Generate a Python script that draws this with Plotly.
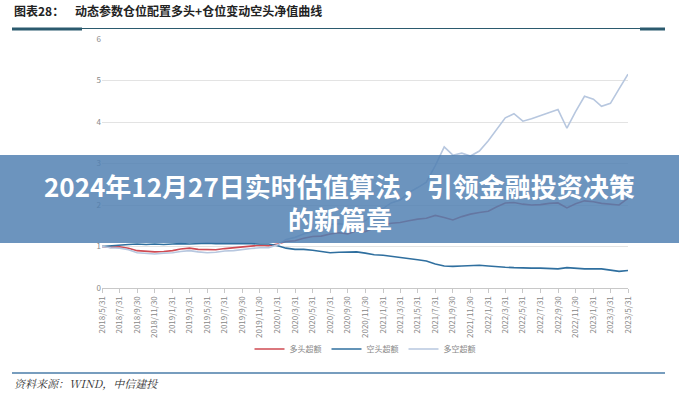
import pandas as pd
import plotly.graph_objects as go

# ---------------- data (month-end values) ----------------
dates = pd.date_range("2018-05-31", periods=61, freq="ME")

long_excess = [1.00, 0.98, 0.99, 0.96, 0.90, 0.88, 0.87, 0.88, 0.90, 0.94,
               0.96, 0.93, 0.92, 0.92, 0.95, 0.97, 0.99, 1.02, 1.03, 1.02,
               1.06, 1.12, 1.14, 1.20, 1.24, 1.25, 1.30, 1.33, 1.30, 1.38,
               1.36, 1.45, 1.52, 1.56, 1.58, 1.62, 1.66, 1.68, 1.75, 1.70,
               1.64, 1.72, 1.78, 1.82, 1.85, 1.95, 2.05, 2.06, 2.02, 2.00,
               2.01, 2.04, 2.05, 1.93, 2.03, 2.10, 2.08, 2.04, 2.02, 2.00,
               2.16]

short_excess = [1.00, 1.02, 1.03, 1.05, 1.06, 1.05, 1.06, 1.05, 1.06, 1.07,
                1.06, 1.07, 1.08, 1.07, 1.07, 1.08, 1.07, 1.07, 1.06, 1.06,
                1.02, 0.96, 0.93, 0.93, 0.91, 0.88, 0.85, 0.86, 0.86, 0.87,
                0.84, 0.80, 0.79, 0.76, 0.74, 0.70, 0.68, 0.65, 0.58, 0.53,
                0.52, 0.53, 0.54, 0.55, 0.53, 0.51, 0.50, 0.49, 0.48, 0.48,
                0.48, 0.47, 0.46, 0.49, 0.47, 0.46, 0.46, 0.46, 0.43, 0.40,
                0.42]

ls_excess = [1.00, 0.97, 0.96, 0.92, 0.85, 0.84, 0.82, 0.84, 0.85, 0.88,
             0.90, 0.87, 0.85, 0.86, 0.89, 0.90, 0.93, 0.95, 0.97, 0.97,
             1.04, 1.17, 1.22, 1.30, 1.36, 1.42, 1.53, 1.55, 1.52, 1.60,
             1.62, 1.82, 1.92, 2.05, 2.12, 2.30, 2.42, 2.55, 2.95, 3.40,
             3.20, 3.25, 3.18, 3.30, 3.55, 3.80, 4.10, 4.20, 4.02, 4.08,
             4.15, 4.22, 4.30, 3.85, 4.25, 4.62, 4.55, 4.38, 4.45, 4.80,
             5.15]

series_names = ["多头超额", "空头超额", "多空超额"]
tick_labels = [f"{d.year}/{d.month}/{d.day}" for d in dates[::2]]
tick_vals = list(dates[::2])
y_ticks = [0, 1, 2, 3, 4, 5, 6]

title_text = "图表28：    动态参数仓位配置多头+仓位变动空头净值曲线"
source_text = "资料来源：WIND，中信建投"
banner_line1 = "2024年12月27日实时估值算法，引领金融投资决策"
banner_line2 = "的新篇章"

# ---------------- layout helpers (pixel -> paper) ----------------
W, H = 679, 400
L, R, T, B = 102, 51, 39, 112
PW, PH = W - L - R, H - T - B


def px(x):
    return (x - L) / PW


def py(y):
    return (H - B - y) / PH


fig = go.Figure()
fig.add_trace(go.Scatter(x=dates, y=long_excess, name=series_names[0], mode="lines",
                         line=dict(color="#cf4a52", width=1.6)))
fig.add_trace(go.Scatter(x=dates, y=short_excess, name=series_names[1], mode="lines",
                         line=dict(color="#2f6f9f", width=1.6)))
fig.add_trace(go.Scatter(x=dates, y=ls_excess, name=series_names[2], mode="lines",
                         line=dict(color="#b7c7df", width=1.6)))

fig.update_layout(
    width=W, height=H,
    margin=dict(l=L, r=R, t=T, b=B),
    paper_bgcolor="white", plot_bgcolor="white",
    font=dict(family="Noto Sans CJK SC, sans-serif", color="#888888", size=8),
    showlegend=True,
    legend=dict(orientation="h", x=0.5, xanchor="center", y=py(349), yanchor="middle",
                font=dict(size=8, color="#888888"), itemwidth=30,
                bgcolor="rgba(0,0,0,0)"),
    xaxis=dict(range=[dates[0], dates[-1]], tickmode="array", tickvals=tick_vals,
               ticktext=tick_labels, tickangle=-90, showgrid=False,
               showline=True, linecolor="#c8c8c8", linewidth=1,
               ticks="outside", ticklen=4, tickcolor="#c8c8c8",
               tickfont=dict(size=8, color="#888888"), zeroline=False),
    yaxis=dict(range=[0, 6], tickvals=y_ticks, showgrid=True, gridcolor="#e3e3e3",
               gridwidth=1, zeroline=False, showline=False, ticks="",
               tickfont=dict(size=8, color="#888888")),
)

shapes = []
# top rule
shapes.append(dict(type="line", xref="paper", yref="paper", x0=px(12), x1=px(665),
                   y0=py(28.5), y1=py(28.5), line=dict(color="#2b5a6e", width=1.2)))
shapes.append(dict(type="line", xref="paper", yref="paper", x0=px(12), x1=px(82),
                   y0=py(29), y1=py(29), line=dict(color="#2b5a6e", width=3)))
shapes.append(dict(type="line", xref="paper", yref="paper", x0=px(640), x1=px(665),
                   y0=py(29), y1=py(29), line=dict(color="#2b5a6e", width=3)))
# bottom rule
shapes.append(dict(type="line", xref="paper", yref="paper", x0=px(12), x1=px(665),
                   y0=py(373), y1=py(373), line=dict(color="#4a7ca8", width=1.5)))
# banner
shapes.append(dict(type="rect", xref="paper", yref="paper", x0=px(0), x1=px(W),
                   y0=py(243), y1=py(155), fillcolor="rgba(80,128,178,0.84)",
                   line=dict(width=0), layer="above"))
fig.update_layout(shapes=shapes)

anns = [
    dict(text=title_text, xref="paper", yref="paper", x=px(12), y=py(10),
         xanchor="left", yanchor="middle", showarrow=False,
         font=dict(size=12, color="#222222", family="Noto Sans CJK SC, sans-serif", weight="bold")),
    dict(text="<i>" + source_text + "</i>", xref="paper", yref="paper", x=px(12), y=py(383),
         xanchor="left", yanchor="middle", showarrow=False,
         font=dict(size=11, color="#333333", family="Noto Serif CJK SC, Noto Sans CJK SC, serif")),
    dict(text=banner_line1, xref="paper", yref="paper", x=px(W / 2), y=py(185),
         xanchor="center", yanchor="middle", showarrow=False,
         font=dict(size=26, color="white", family="Noto Sans CJK SC, sans-serif", weight="bold")),
    dict(text=banner_line2, xref="paper", yref="paper", x=px(W / 2), y=py(218),
         xanchor="center", yanchor="middle", showarrow=False,
         font=dict(size=26, color="white", family="Noto Sans CJK SC, sans-serif", weight="bold")),
]
fig.update_layout(annotations=anns)

fig.write_html("out.html")
